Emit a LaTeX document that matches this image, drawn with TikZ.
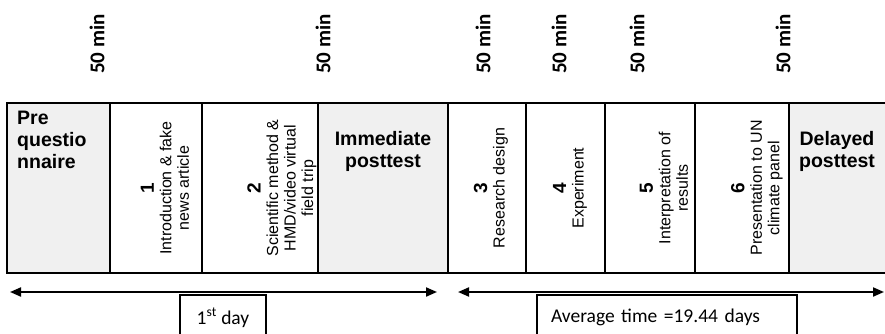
\documentclass[tikz,border=0pt]{standalone}
\usepackage{fontspec}
\setmainfont{Liberation Sans}
\newfontfamily\calibri{Carlito}
\usetikzlibrary{arrows.meta}
\definecolor{cellgrey}{HTML}{F0F0F0}
\tikzset{
  grid/.style={draw=black, line width=1.4pt},
  greycell/.style={fill=cellgrey},
  minlabel/.style={rotate=90, inner sep=0pt, font=\calibri\bfseries\fontsize{21}{24}\selectfont},
  boldhead/.style={inner sep=0pt, font=\bfseries\fontsize{19.5}{22}\selectfont},
  rottext/.style={rotate=90, inner sep=0pt, align=center, font=\fontsize{16}{17.5}\selectfont},
  span/.style={line width=2pt, {Triangle[length=11pt,width=9pt]}-{Triangle[length=11pt,width=9pt]}},
  daybox/.style={draw=black, line width=1.1pt, minimum height=45pt, font=\calibri\fontsize{19.5}{22}\selectfont}
}
\newcommand{\stepnum}[1]{{\bfseries\fontsize{19}{17.5}\selectfont #1}}
\begin{document}
\begin{tikzpicture}[x=1pt,y=1pt]
\useasboundingbox (0,0) rectangle (885,333);
% grey cells
\fill[greycell] (7,60) rectangle (110,230);
\fill[greycell] (318,60) rectangle (448,230);
\fill[greycell] (789,60) rectangle (887,230);
% table grid
\draw[grid] (7,60) rectangle (887,230);
\foreach \x in {110,202,318,448,526,605,695,789}
  \draw[grid] (\x,60) -- (\x,230);
% 50 min labels
\foreach \x/\n in {97/m1,323/m2,483/m3,559/m4,637/m5,783/m6}
  \node[minlabel] (\n) at (\x,289) {50 min};
% header cells (base anchor = baseline of last line)
\node[boldhead, anchor=base west, align=left] (pre) at (17,165) {Pre\\questio\\nnaire};
\node[boldhead, anchor=base, align=center] (imm) at (383,166) {Immediate\\posttest};
\node[boldhead, anchor=base, align=center] (del) at (837,166) {Delayed\\posttest};
% rotated activity cells
\node[rottext] (s1) at (165,145) {\stepnum{1}\\Introduction \& fake\\news article};
\node[rottext] (s2) at (282,145) {\stepnum{2}\\Scientific method \&\\HMD/video virtual\\field trip};
\node[rottext] (s3) at (491,145) {\stepnum{3}\\Research design};
\node[rottext] (s4) at (570,145) {\stepnum{4}\\Experiment};
\node[rottext] (s5) at (664,145) {\stepnum{5}\\Interpretation of\\results};
\node[rottext] (s6) at (757,145) {\stepnum{6}\\Presentation to UN\\climate panel};
% arrows
\coordinate (a1s) at (10,41);
\coordinate (a1e) at (437,41);
\coordinate (a2s) at (458,41);
\coordinate (a2e) at (884,41);
\draw[span] (a1s) -- (a1e);
\draw[span] (a2s) -- (a2e);
% boxes
\node[daybox, minimum width=86pt] (d1) at (223,15.5) {1\textsuperscript{st} day};
\node[daybox, text width=232pt, inner xsep=14pt, align=left] (d2) at (667,15.5) {Average time =19.44 days};
\end{tikzpicture}
\end{document}
